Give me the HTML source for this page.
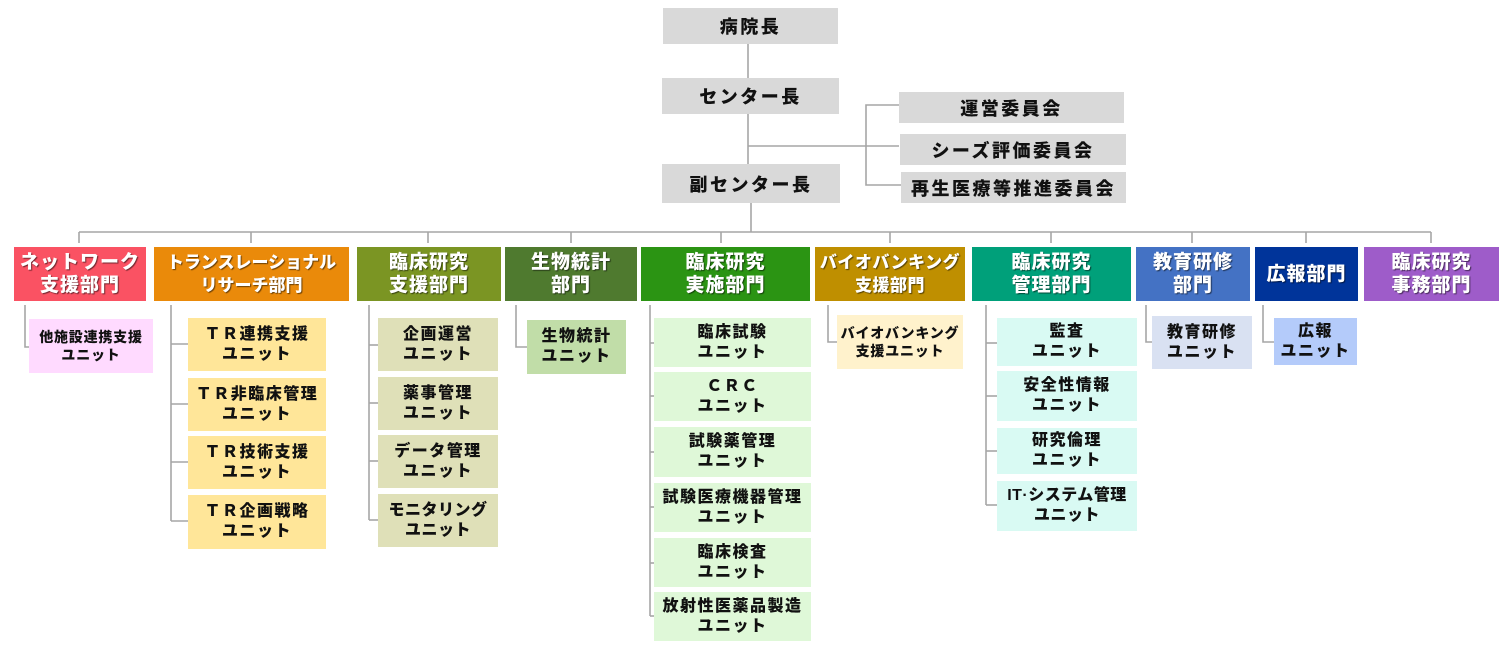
<!DOCTYPE html>
<html><head><meta charset="utf-8">
<style>
html,body{margin:0;padding:0;background:#fff;}
body{width:1506px;height:647px;position:relative;overflow:hidden;font-family:"Liberation Sans","Noto Sans CJK JP",sans-serif;font-weight:bold;}
.b{position:absolute;display:flex;align-items:center;justify-content:center;text-align:center;box-sizing:border-box;white-space:nowrap;}
.top{background:#d9d9d9;color:#111;font-size:18px;letter-spacing:2.5px;font-weight:900;}
.d{color:#fff;font-size:19px;letter-spacing:1px;line-height:23px;text-shadow:1px 1px 1px rgba(0,0,0,.55);font-weight:900;}
.u{color:#111;font-size:16px;letter-spacing:1.5px;line-height:20px;font-weight:900;}
.s{font-size:14px;letter-spacing:0.8px;line-height:18px;}
svg{position:absolute;left:0;top:0;}
</style></head><body>
<svg width="1506" height="647" viewBox="0 0 1506 647">
<g stroke="#a6a6a6" stroke-width="1.6" fill="none">
<line x1="748" y1="44" x2="748" y2="78"/>
<line x1="748" y1="114" x2="748" y2="164"/>
<line x1="748" y1="146" x2="899" y2="146"/>
<polyline points="899,105 866,105 866,185 901,185"/>
<line x1="751" y1="203" x2="751" y2="232"/>
<line x1="79" y1="232" x2="1431" y2="232"/>
<line x1="79" y1="232" x2="79" y2="243"/>
<line x1="251" y1="232" x2="251" y2="243"/>
<line x1="428" y1="232" x2="428" y2="243"/>
<line x1="571" y1="232" x2="571" y2="243"/>
<line x1="721" y1="232" x2="721" y2="243"/>
<line x1="890" y1="232" x2="890" y2="243"/>
<line x1="1051" y1="232" x2="1051" y2="243"/>
<line x1="1192" y1="232" x2="1192" y2="243"/>
<line x1="1306" y1="232" x2="1306" y2="243"/>
<line x1="1431" y1="232" x2="1431" y2="243"/>
<polyline points="25,305 25,347 29,347"/>
<line x1="171" y1="305" x2="171" y2="521"/>
<line x1="171" y1="344" x2="188" y2="344"/>
<line x1="171" y1="404" x2="188" y2="404"/>
<line x1="171" y1="462" x2="188" y2="462"/>
<line x1="171" y1="521" x2="188" y2="521"/>
<line x1="369" y1="305" x2="369" y2="520"/>
<line x1="369" y1="345" x2="378" y2="345"/>
<line x1="369" y1="403" x2="378" y2="403"/>
<line x1="369" y1="461" x2="378" y2="461"/>
<line x1="369" y1="520" x2="378" y2="520"/>
<polyline points="516,305 516,347 527,347"/>
<line x1="650" y1="305" x2="650" y2="616"/>
<line x1="650" y1="343" x2="654" y2="343"/>
<line x1="650" y1="396" x2="654" y2="396"/>
<line x1="650" y1="452" x2="654" y2="452"/>
<line x1="650" y1="507" x2="654" y2="507"/>
<line x1="650" y1="563" x2="654" y2="563"/>
<line x1="650" y1="616" x2="654" y2="616"/>
<polyline points="828,305 828,342 837,342"/>
<line x1="986" y1="305" x2="986" y2="505"/>
<line x1="986" y1="343" x2="997" y2="343"/>
<line x1="986" y1="396" x2="997" y2="396"/>
<line x1="986" y1="451" x2="997" y2="451"/>
<line x1="986" y1="505" x2="997" y2="505"/>
<polyline points="1146,305 1146,342 1152,342"/>
<polyline points="1263,305 1263,342 1274,342"/>
</g>
</svg>

<!-- top -->
<div class="b top" style="left:663px;top:8px;width:175px;height:36px;">病院長</div>
<div class="b top" style="left:662px;top:78px;width:177px;height:36px;">センター長</div>
<div class="b top" style="left:662px;top:164px;width:178px;height:39px;">副センター長</div>
<div class="b top" style="left:899px;top:92px;width:225px;height:31px;">運営委員会</div>
<div class="b top" style="left:900px;top:134px;width:226px;height:31px;">シーズ評価委員会</div>
<div class="b top" style="left:901px;top:172px;width:225px;height:31px;">再生医療等推進委員会</div>

<!-- departments -->
<div class="b d" style="left:14px;top:247px;width:132px;height:54px;background:#fa5263;">ネットワーク<br>支援部門</div>
<div class="b d" style="left:154px;top:247px;width:195px;height:54px;background:#ea8a0a;font-size:17px;letter-spacing:0;">トランスレーショナル<br>リサーチ部門</div>
<div class="b d" style="left:357px;top:247px;width:144px;height:54px;background:#7b9523;">臨床研究<br>支援部門</div>
<div class="b d" style="left:505px;top:247px;width:132px;height:54px;background:#4f7a2f;">生物統計<br>部門</div>
<div class="b d" style="left:641px;top:247px;width:169px;height:54px;background:#2b9413;">臨床研究<br>実施部門</div>
<div class="b d" style="left:815px;top:247px;width:150px;height:54px;background:#bf8f00;font-size:17px;letter-spacing:0.5px;">バイオバンキング<br>支援部門</div>
<div class="b d" style="left:972px;top:247px;width:159px;height:54px;background:#00a07a;">臨床研究<br>管理部門</div>
<div class="b d" style="left:1136px;top:247px;width:114px;height:54px;background:#4472c4;">教育研修<br>部門</div>
<div class="b d" style="left:1255px;top:247px;width:103px;height:54px;background:#00349a;">広報部門</div>
<div class="b d" style="left:1364px;top:247px;width:135px;height:54px;background:#9e5cc9;">臨床研究<br>事務部門</div>

<!-- units -->
<div class="b u s" style="left:29px;top:319px;width:124px;height:54px;background:#ffdaff;">他施設連携支援<br>ユニット</div>

<div class="b u" style="left:188px;top:318px;width:138px;height:53px;background:#ffe699;">ＴＲ連携支援<br>ユニット</div>
<div class="b u" style="left:188px;top:378px;width:138px;height:53px;background:#ffe699;">ＴＲ非臨床管理<br>ユニット</div>
<div class="b u" style="left:188px;top:436px;width:138px;height:53px;background:#ffe699;">ＴＲ技術支援<br>ユニット</div>
<div class="b u" style="left:188px;top:495px;width:138px;height:54px;background:#ffe699;">ＴＲ企画戦略<br>ユニット</div>

<div class="b u" style="left:378px;top:318px;width:120px;height:53px;background:#dfe0b8;">企画運営<br>ユニット</div>
<div class="b u" style="left:378px;top:377px;width:120px;height:53px;background:#dfe0b8;">薬事管理<br>ユニット</div>
<div class="b u" style="left:378px;top:435px;width:120px;height:53px;background:#dfe0b8;">データ管理<br>ユニット</div>
<div class="b u" style="left:378px;top:494px;width:120px;height:53px;background:#dfe0b8;letter-spacing:0.5px;">モニタリング<br>ユニット</div>

<div class="b u" style="left:527px;top:320px;width:99px;height:54px;background:#c1dda8;">生物統計<br>ユニット</div>

<div class="b u" style="left:654px;top:318px;width:157px;height:49px;background:#dff8d8;">臨床試験<br>ユニット</div>
<div class="b u" style="left:654px;top:372px;width:157px;height:49px;background:#dff8d8;">ＣＲＣ<br>ユニット</div>
<div class="b u" style="left:654px;top:427px;width:157px;height:50px;background:#dff8d8;">試験薬管理<br>ユニット</div>
<div class="b u" style="left:654px;top:483px;width:157px;height:49px;background:#dff8d8;">試験医療機器管理<br>ユニット</div>
<div class="b u" style="left:654px;top:538px;width:157px;height:49px;background:#dff8d8;">臨床検査<br>ユニット</div>
<div class="b u" style="left:654px;top:592px;width:157px;height:49px;background:#dff8d8;">放射性医薬品製造<br>ユニット</div>

<div class="b u s" style="left:837px;top:315px;width:126px;height:54px;background:#fff2cc;">バイオバンキング<br>支援ユニット</div>

<div class="b u" style="left:997px;top:318px;width:140px;height:48px;background:#d9faf3;">監査<br>ユニット</div>
<div class="b u" style="left:997px;top:371px;width:140px;height:50px;background:#d9faf3;">安全性情報<br>ユニット</div>
<div class="b u" style="left:997px;top:428px;width:140px;height:46px;background:#d9faf3;">研究倫理<br>ユニット</div>
<div class="b u" style="left:997px;top:481px;width:140px;height:50px;background:#d9faf3;letter-spacing:0.5px;">IT·システム管理<br>ユニット</div>

<div class="b u" style="left:1152px;top:316px;width:100px;height:53px;background:#d9e1f2;">教育研修<br>ユニット</div>
<div class="b u" style="left:1274px;top:318px;width:83px;height:47px;background:#b4cbfa;">広報<br>ユニット</div>
</body></html>
